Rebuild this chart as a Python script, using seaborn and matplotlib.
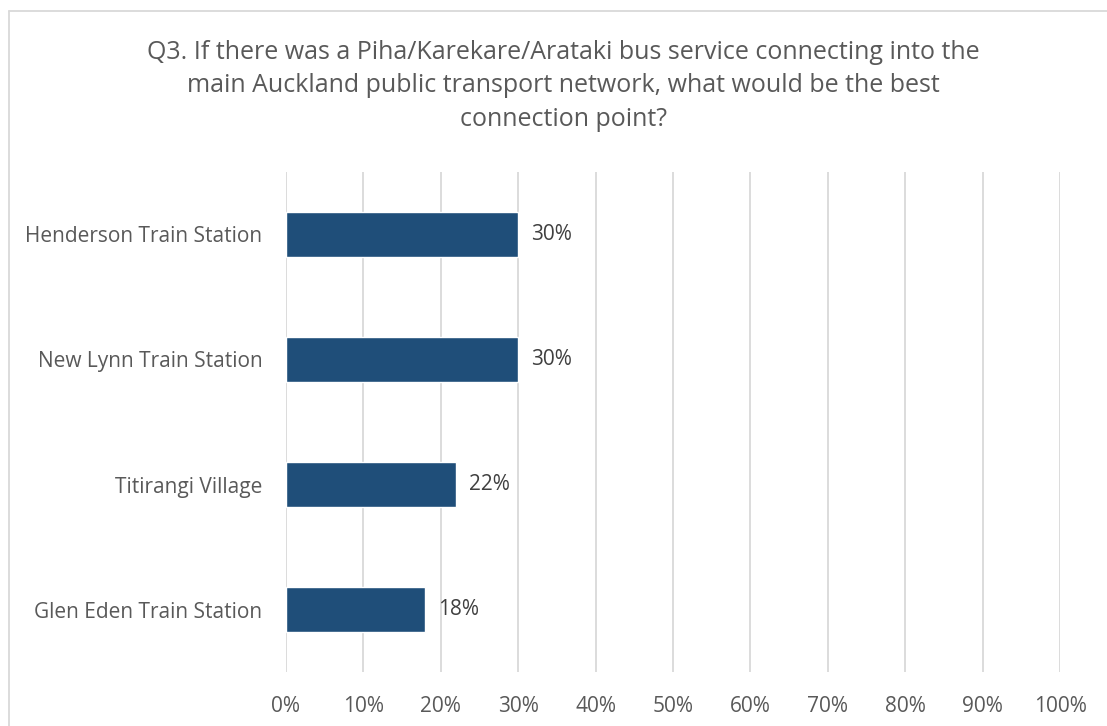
import matplotlib
matplotlib.use("Agg")
import matplotlib.pyplot as plt
from matplotlib.lines import Line2D
from matplotlib.ticker import FuncFormatter, MultipleLocator
import seaborn as sns
import pandas as pd

categories = ["Henderson Train Station", "New Lynn Train Station",
              "Titirangi Village", "Glen Eden Train Station"]
shares = [30, 30, 22, 18]
title = ("Q3. If there was a Piha/Karekare/Arataki bus service connecting into the\n"
         "main Auckland public transport network, what would be the best\n"
         "connection point?")

df = pd.DataFrame({"location": categories, "share": shares})

sns.set_theme(style="white")
plt.rcParams["font.family"] = ["Open Sans", "DejaVu Sans"]

W, H = 1107, 726
fig = plt.figure(figsize=(W / 100, H / 100), dpi=100)
ax = fig.add_axes([286 / W, 1 - 672 / H, (1060 - 286) / W, (672 - 172) / H])

sns.barplot(data=df, x="share", y="location", orient="h", color="#1F4E79",
            saturation=1, width=0.36, ax=ax)

ax.set_xlim(0, 100)
ax.xaxis.set_major_locator(MultipleLocator(10))
ax.xaxis.set_major_formatter(FuncFormatter(lambda v, _: f"{v:.0f}%"))
ax.grid(axis="x", color="#D9D9D9", linewidth=1.3)
ax.set_axisbelow(True)
for s in ax.spines.values():
    s.set_visible(False)
ax.set_xlabel("")
ax.set_ylabel("")
ax.tick_params(axis="x", length=0, pad=17, labelsize=15, labelcolor="#595959")
ax.tick_params(axis="y", length=0, pad=17, labelsize=15, labelcolor="#595959")

for patch, v in zip(ax.patches, shares):
    ax.annotate(f"{v}%", (patch.get_width(), patch.get_y() + patch.get_height() / 2),
                xytext=(9, 0), textcoords="offset points", va="center", ha="left",
                fontsize=15, color="#404040")

fig.text(563 / W, 1 - 86 / H, title, ha="center", va="center", fontsize=18,
         color="#595959", linespacing=1.45)

# chart frame
fig.add_artist(Line2D([9 / W, 9 / W], [0, 1 - 11 / H], transform=fig.transFigure,
                      color="#D9D9D9", linewidth=1.3))
fig.add_artist(Line2D([9 / W, 1], [1 - 11 / H, 1 - 11 / H], transform=fig.transFigure,
                      color="#D9D9D9", linewidth=1.3))

fig.savefig("out.png", dpi=100, facecolor="white")
